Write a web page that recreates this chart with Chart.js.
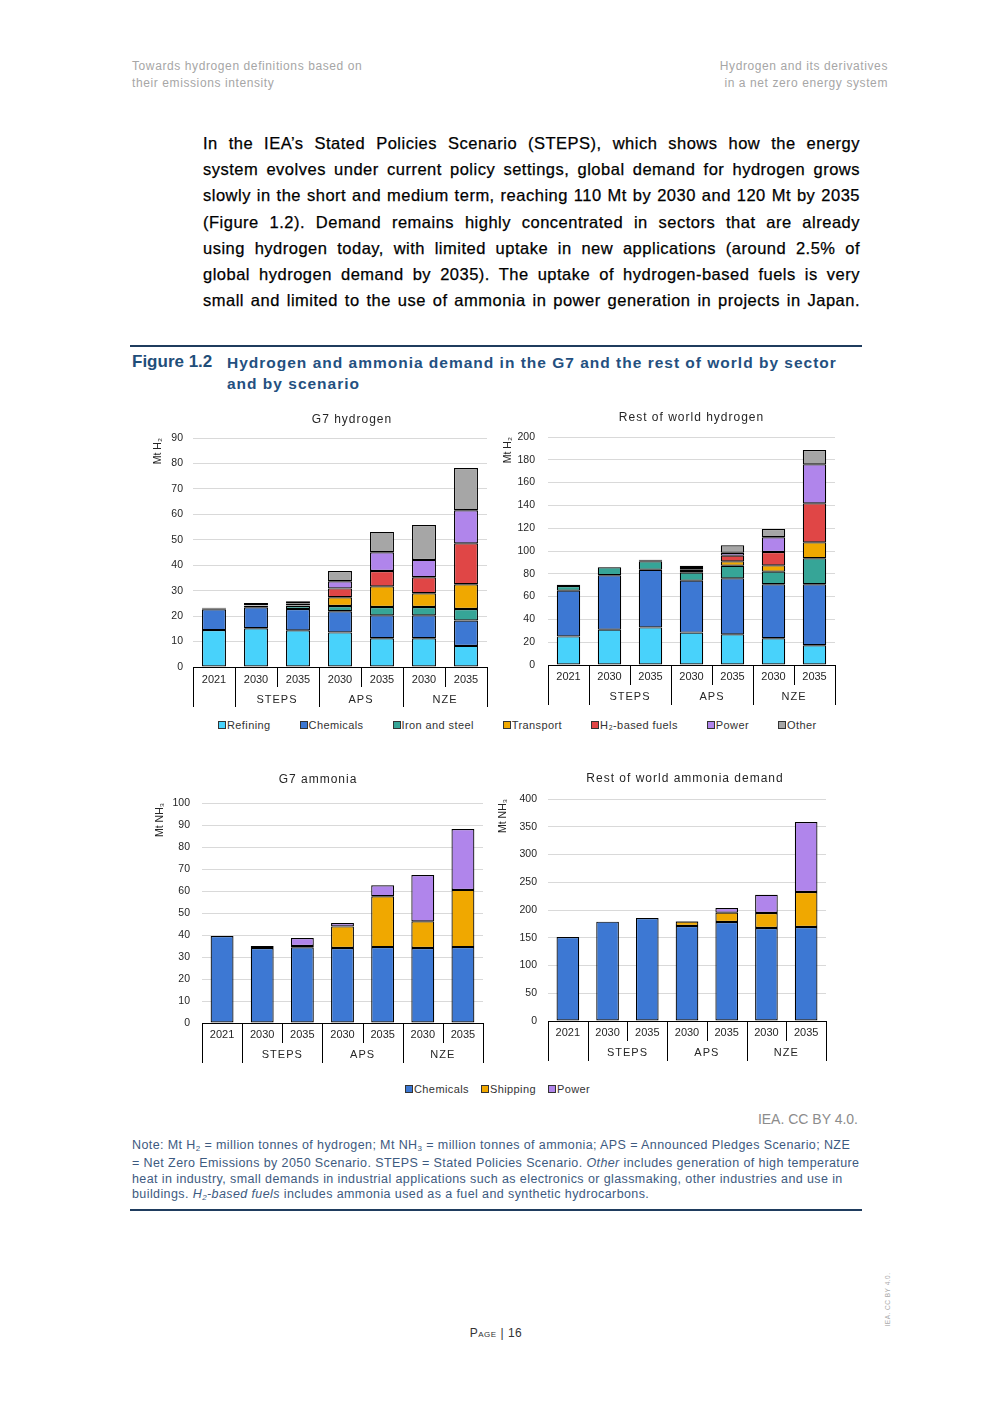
<!DOCTYPE html>
<html>
<head>
<meta charset="utf-8">
<script src="https://cdn.jsdelivr.net/npm/chart.js@4.4.1/dist/chart.umd.min.js"></script>
<style>
body { margin: 0; background: #fff; font-family: "Liberation Sans", Arial, sans-serif; }
#page { position: relative; width: 992px; height: 1403px; overflow: hidden; background: #fff; }
.abs { position: absolute; }
.hdr { top: 58px; color: #a6a6a6; font-size: 12px; letter-spacing: .6px; line-height: 17px; }
.para { left: 203px; top: 130px; width: 657px; font-size: 16.5px; letter-spacing: .5px; line-height: 26.2px; color: #000; -webkit-text-stroke: .25px #000; }
.para div { text-align: justify; text-align-last: justify; }
.rule { left: 130px; width: 732px; height: 2px; background: #1f3c5e; }
.figno { left: 132px; top: 352px; font-size: 17px; font-weight: bold; color: #1f4e79; }
.figtitle { left: 227px; top: 352px; width: 630px; font-size: 15.5px; font-weight: bold; letter-spacing: 1px; line-height: 21px; color: #24507f; }
.legend { display: flex; font-size: 11px; letter-spacing: .4px; color: #333; white-space: nowrap; }
.legend span.sw { display: inline-block; width: 6px; height: 6px; border: 1px solid #333; margin-right: 1px; vertical-align: 0px; }
.credit { right: 134px; top: 1111px; font-size: 14px; color: #8c8c8c; }
.note { left: 132px; top: 1138px; width: 760px; font-size: 12.5px; letter-spacing: .4px; line-height: 15.3px; color: #3d5a80; white-space: nowrap; }
.note sub { font-size: 8px; vertical-align: -2px; }
.pageno { left: 0; width: 992px; top: 1326px; text-align: center; font-size: 12px; color: #333; font-variant: small-caps; letter-spacing: .5px; }
.side { left: 857px; top: 1296px; width: 60px; font-size: 6.5px; color: #aaa; transform: rotate(-90deg); text-align: center; letter-spacing: .5px; }
</style>
</head>
<body>
<div id="page">
  <div class="abs hdr" style="left:132px">Towards hydrogen definitions based on<br>their emissions intensity</div>
  <div class="abs hdr" style="right:104px;text-align:right">Hydrogen and its derivatives<br>in a net zero energy system</div>

  <div class="abs para">
    <div>In the IEA’s Stated Policies Scenario (STEPS), which shows how the energy</div>
    <div>system evolves under current policy settings, global demand for hydrogen grows</div>
    <div>slowly in the short and medium term, reaching 110 Mt by 2030 and 120 Mt by 2035</div>
    <div>(Figure 1.2). Demand remains highly concentrated in sectors that are already</div>
    <div>using hydrogen today, with limited uptake in new applications (around 2.5% of</div>
    <div>global hydrogen demand by 2035). The uptake of hydrogen-based fuels is very</div>
    <div>small and limited to the use of ammonia in power generation in projects in Japan.</div>
  </div>

  <div class="abs rule" style="top:345px"></div>
  <div class="abs figno">Figure 1.2</div>
  <div class="abs figtitle">Hydrogen and ammonia demand in the G7 and the rest of world by sector and by scenario</div>

  <canvas id="c1" class="abs" width="355" height="305" style="left:140px;top:405px"></canvas>
  <canvas id="c2" class="abs" width="345" height="305" style="left:495px;top:405px"></canvas>
  <div id="leg1" class="abs legend" style="left:218px;top:719px;gap:29px"></div>

  <canvas id="c3" class="abs" width="350" height="300" style="left:140px;top:765px"></canvas>
  <canvas id="c4" class="abs" width="340" height="298" style="left:495px;top:765px"></canvas>
  <div id="leg2" class="abs legend" style="left:405px;top:1083px;gap:12px"></div>

  <div class="abs credit">IEA. CC BY 4.0.</div>
  <div class="abs note">
    <div>Note: Mt H<sub>2</sub> = million tonnes of hydrogen; Mt NH<sub>3</sub> = million tonnes of ammonia; APS = Announced Pledges Scenario; NZE</div>
    <div>= Net Zero Emissions by 2050 Scenario. STEPS = Stated Policies Scenario. <i>Other</i> includes generation of high temperature</div>
    <div>heat in industry, small demands in industrial applications such as electronics or glassmaking, other industries and use in</div>
    <div>buildings. <i>H<sub>2</sub>-based fuels</i> includes ammonia used as a fuel and synthetic hydrocarbons.</div>
  </div>
  <div class="abs rule" style="top:1209px"></div>

  <div class="abs pageno">Page | 16</div>
  <div class="abs side">IEA. CC BY 4.0.</div>
</div>

<script>
// categories shared by all four panels
var years = ["2021", "2030", "2035", "2030", "2035", "2030", "2035"];
var scenarios = ["", "STEPS", "STEPS", "APS", "APS", "NZE", "NZE"];

// G7 hydrogen, Mt H2
var g7Refining   = [14.5, 15.2, 14.4, 13.6, 11.3, 11.3, 8.3];
var g7Chemicals  = [8.2, 8.3, 8.4, 8.3, 9.0, 9.0, 10.0];
var g7IronSteel  = [0.3, 0.6, 1.3, 2.1, 3.3, 3.3, 4.5];
var g7Transport  = [0, 0.1, 0.2, 3.4, 8.1, 5.4, 9.7];
var g7H2Fuels    = [0, 0.1, 0.5, 3.5, 6.0, 6.3, 16.1];
var g7Power      = [0, 0.1, 0.2, 2.8, 7.4, 6.8, 13.0];
var g7Other      = [0.3, 0.8, 0.8, 4.0, 8.0, 13.7, 16.6];

// Rest of world hydrogen, Mt H2
var rowRefining  = [25.1, 31.0, 33.0, 28.4, 26.9, 23.4, 17.3];
var rowChemicals = [40.1, 47.7, 50.6, 45.6, 49.1, 47.4, 53.5];
var rowIronSteel = [4.1, 7.0, 7.3, 7.0, 11.1, 11.1, 22.8];
var rowTransport = [0, 0, 1.0, 1.5, 3.8, 5.5, 14.0];
var rowH2Fuels   = [0, 0, 0.2, 1.5, 5.0, 11.7, 34.2];
var rowPower     = [0, 0, 0, 1.0, 2.6, 12.9, 34.2];
var rowOther     = [1.2, 0.3, 0.3, 2.0, 6.5, 7.3, 12.6];

// G7 ammonia, Mt NH3
var g7NhChemicals = [39.5, 34.1, 34.4, 34.1, 34.5, 34.1, 34.5];
var g7NhShipping  = [0, 0, 0.6, 9.8, 23.1, 12.1, 26.0];
var g7NhPower     = [0, 0.9, 3.6, 1.5, 5.0, 21.1, 27.7];

// Rest of world ammonia, Mt NH3
var rowNhChemicals = [151.4, 179.0, 185.6, 171.2, 178.4, 167.6, 169.4];
var rowNhShipping  = [0, 0, 0, 8.0, 16.8, 27.0, 63.0];
var rowNhPower     = [0, 0, 0, 1.0, 8.4, 33.0, 126.2];

var h2Names = ["Refining", "Chemicals", "Iron and steel", "Transport", "H₂-based fuels", "Power", "Other"];
var h2Colors = ["#48d2fb", "#3d78d3", "#36a597", "#f0a800", "#e04646", "#b085eb", "#a6a6a6"];
var nh3Names = ["Chemicals", "Shipping", "Power"];
var nh3Colors = ["#3d78d3", "#f0a800", "#b085eb"];

Chart.defaults.font.family = "'Liberation Sans', Arial, sans-serif";
Chart.defaults.color = "#262626";

// draws the panel title, the two-level category axis separators and scenario labels
var groupAxis = {
    id: "groupAxis",
    afterDraw: function (chart, args, opts) {
        var ctx = chart.ctx;
        var x = chart.scales.x;
        var n = chart.data.labels.length;
        var half = (x.getPixelForValue(1) - x.getPixelForValue(0)) / 2;
        var y0 = x.top;
        ctx.save();
        ctx.strokeStyle = "#000";
        ctx.lineWidth = 1;
        for (var i = 0; i <= n; i++) {
            var xp = i < n ? x.getPixelForValue(i) - half : x.getPixelForValue(n - 1) + half;
            var full = i === 0 || i === n || scenarios[i] !== scenarios[i - 1];
            xp = Math.round(xp) + 0.5;
            ctx.beginPath();
            ctx.moveTo(xp, y0);
            ctx.lineTo(xp, y0 + (full ? 40 : 20));
            ctx.stroke();
        }
        ctx.fillStyle = "#262626";
        ctx.textAlign = "center";
        ctx.textBaseline = "middle";
        ctx.font = "11px 'Liberation Sans', Arial, sans-serif";
        ctx.letterSpacing = "1px";
        var start = 0;
        for (var j = 1; j <= n; j++) {
            if (j === n || scenarios[j] !== scenarios[start]) {
                var mid = (x.getPixelForValue(start) + x.getPixelForValue(j - 1)) / 2;
                ctx.fillText(scenarios[start], mid, y0 + opts.groupY);
                start = j;
            }
        }
        ctx.font = "12px 'Liberation Sans', Arial, sans-serif";
        ctx.fillText(opts.title, opts.titleX, opts.titleY);
        ctx.letterSpacing = "0px";
        ctx.restore();
    }
};

function makeChart(id, p) {
    var datasets = p.series.map(function (vals, k) {
        return {
            label: p.names[k],
            data: vals,
            backgroundColor: p.colors[k],
            borderColor: "#000",
            // empty segments get no outline so they do not thicken the bar tops
            borderWidth: function (c) { return c.raw ? 1.2 : 0; },
            borderSkipped: false,
            categoryPercentage: 0.57,
            barPercentage: 1
        };
    });
    return new Chart(document.getElementById(id), {
        type: "bar",
        data: { labels: years, datasets: datasets },
        options: {
            responsive: false,
            animation: false,
            layout: { padding: { top: p.padTop, right: p.padRight, left: 0, bottom: 0 } },
            plugins: {
                legend: { display: false },
                tooltip: { enabled: false },
                groupAxis: { title: p.title, titleX: p.titleX, titleY: p.titleY, groupY: p.groupY }
            },
            scales: {
                x: {
                    stacked: true,
                    grid: { display: false, drawTicks: false },
                    border: { display: true, color: "#000", width: 1, z: 1 },
                    ticks: { font: { size: 11 }, padding: p.xPad, maxRotation: 0, autoSkip: false },
                    afterFit: function (s) { s.height = p.xh; }
                },
                y: {
                    stacked: true,
                    min: 0,
                    max: p.max,
                    ticks: { stepSize: p.step, padding: p.yPad, font: { size: 10.5 } },
                    grid: { color: "#d9d9d9", drawTicks: false },
                    border: { display: false },
                    title: {
                        display: true,
                        text: p.unit,
                        align: "end",
                        font: { size: 10.5 },
                        padding: { top: p.unitPad, bottom: 0 }
                    },
                    afterFit: function (s) { s.width = p.yw; }
                }
            }
        },
        plugins: [groupAxis]
    });
}

makeChart("c1", {
    title: "G7 hydrogen", titleX: 212, titleY: 15, unit: "Mt H₂",
    series: [g7Refining, g7Chemicals, g7IronSteel, g7Transport, g7H2Fuels, g7Power, g7Other],
    names: h2Names, colors: h2Colors, max: 90, step: 10,
    padTop: 33, padRight: 8, yw: 53, xh: 43, xPad: 6, yPad: 10, unitPad: 11.5, groupY: 33
});
makeChart("c2", {
    title: "Rest of world hydrogen", titleX: 196.5, titleY: 13, unit: "Mt H₂",
    series: [rowRefining, rowChemicals, rowIronSteel, rowTransport, rowH2Fuels, rowPower, rowOther],
    names: h2Names, colors: h2Colors, max: 200, step: 20,
    padTop: 32, padRight: 5, yw: 53, xh: 45, xPad: 5, yPad: 13, unitPad: 6.4, groupY: 32
});
makeChart("c3", {
    title: "G7 ammonia", titleX: 178, titleY: 15, unit: "Mt NH₃",
    series: [g7NhChemicals, g7NhShipping, g7NhPower],
    names: nh3Names, colors: nh3Colors, max: 100, step: 10,
    padTop: 38, padRight: 7, yw: 62, xh: 42, xPad: 5, yPad: 12, unitPad: 13.7, groupY: 32
});
makeChart("c4", {
    title: "Rest of world ammonia demand", titleX: 190, titleY: 14, unit: "Mt NH₃",
    series: [rowNhChemicals, rowNhShipping, rowNhPower],
    names: nh3Names, colors: nh3Colors, max: 400, step: 50,
    padTop: 34, padRight: 9, yw: 53, xh: 42, xPad: 5, yPad: 11, unitPad: 2, groupY: 31.5
});

// shared legends under each pair of panels
function fillLegend(id, names, colors) {
    var el = document.getElementById(id);
    names.forEach(function (name, k) {
        var item = document.createElement("div");
        var sw = document.createElement("span");
        sw.className = "sw";
        sw.style.background = colors[k];
        item.appendChild(sw);
        item.appendChild(document.createTextNode(name));
        el.appendChild(item);
    });
}
fillLegend("leg1", h2Names, h2Colors);
fillLegend("leg2", nh3Names, nh3Colors);
</script>
</body>
</html>
